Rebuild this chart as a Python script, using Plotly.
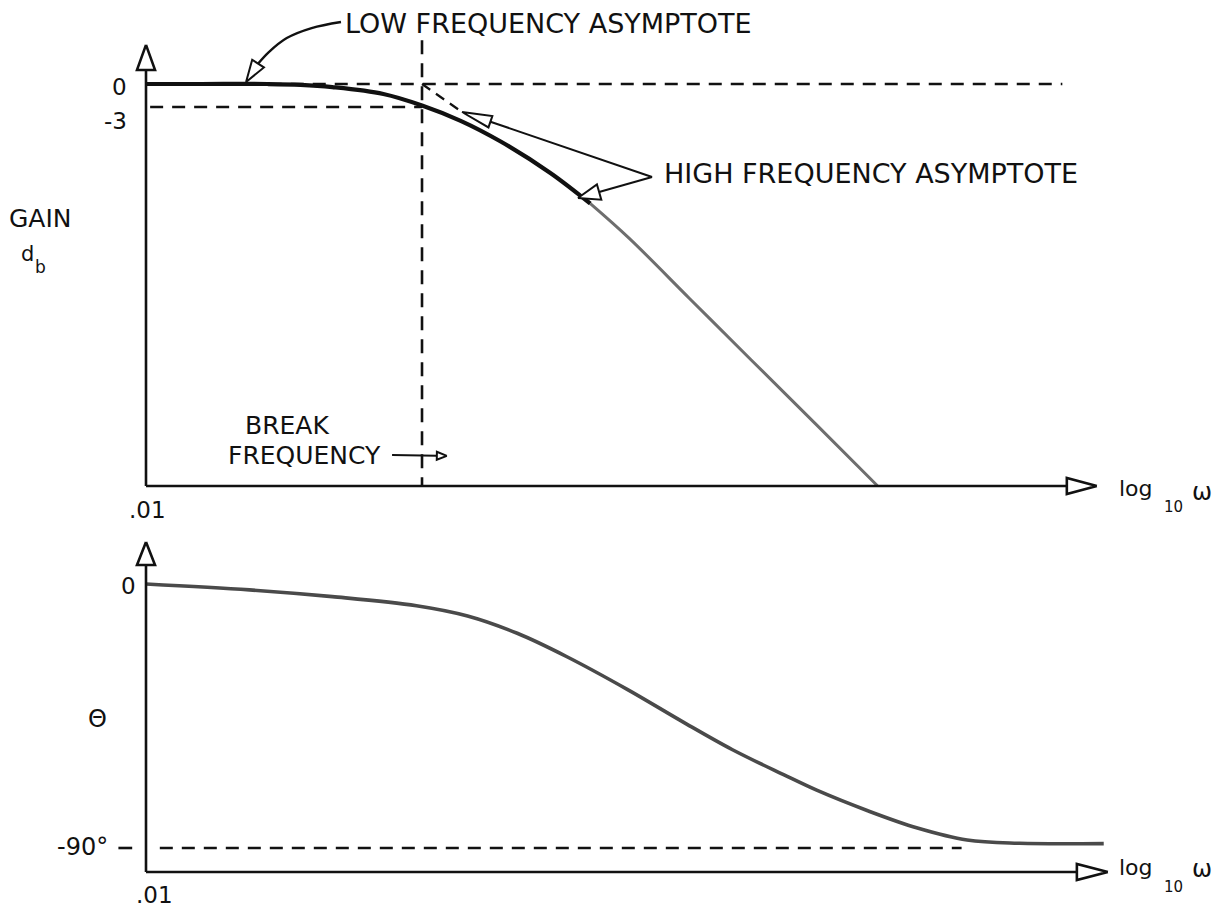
import math
import plotly.graph_objects as go

# ---------------- values ----------------
# magnitude curve: x = log10(omega) (break frequency at 0), y = gain in dB
gain_logw = [-2.0, -1.6, -1.12, -0.88, -0.65, -0.28, 0.0, 0.28, 0.57, 0.93, 1.22,
             1.5, 1.94, 2.38, 2.85, 3.3]
gain_db = [0.0, 0.0, 0.0, -0.1, -0.4, -1.3, -2.8, -4.8, -7.5, -11.6, -15.6,
           -20.1, -28.0, -35.9, -44.3, -52.4]

# phase curve: x = log10(omega), y = phase in degrees
phase_logw = [-2.0, -1.25, -0.65, -0.04, 0.33, 0.69, 1.05, 1.49, 1.89, 2.25, 2.62,
              2.86, 3.23, 3.59, 3.95, 4.33, 4.94]
phase_deg = [0.0, -2.0, -4.3, -7.4, -10.9, -16.8, -24.8, -36.0, -47.0, -56.5, -65.0,
             -70.3, -77.3, -83.2, -87.3, -88.4, -88.5]

# reference levels
LOW_ASYMPTOTE_DB = 0.0
HALF_POWER_DB = -3.0
BREAK_LOGW = 0.0
PHASE_LIMIT_DEG = -90.0
X_START = -2.0                      # log10(.01)

# tick labels
gain_tick_labels = ["0", "-3"]
phase_tick_labels = ["0", "-90°"]
x_tick_label = ".01"

# ---------------- frame ----------------
W, H = 1226, 914
X_RANGE = (-3.058, 5.826)
G_RANGE = (-108.26, 10.96)
P_RANGE = (-112.5, 199.1)

GAIN_AXIS_Y = -52.43
PHASE_AXIS_Y = -98.2
GAIN_X_END, PHASE_X_END = 4.89, 4.97
GAIN_Y_END, PHASE_Y_END = 5.1, 14.3

FONT = "DejaVu Sans"
INK = "#111111"


def to_px(x, y, yr):
    u = (x - X_RANGE[0]) / (X_RANGE[1] - X_RANGE[0]) * W
    v = (yr[1] - y) / (yr[1] - yr[0]) * H
    return u, v


def to_data(u, v, yr):
    x = X_RANGE[0] + u / W * (X_RANGE[1] - X_RANGE[0])
    y = yr[1] - v / H * (yr[1] - yr[0])
    return x, y


def head_path(tip, tail, yr, length, half):
    """Outline of an open triangular arrowhead pointing at `tip`."""
    tu, tv = to_px(*tip, yr)
    su, sv = to_px(*tail, yr)
    d = math.hypot(su - tu, sv - tv)
    ux, uy = (su - tu) / d, (sv - tv) / d
    bu, bv = tu + ux * length, tv + uy * length
    pts = [(tu, tv), (bu - uy * half, bv + ux * half),
           (bu + uy * half, bv - ux * half), (tu, tv)]
    xs, ys = zip(*[to_data(u, v, yr) for u, v in pts])
    return list(xs), list(ys)


def shaft_end(tip, tail, yr, length):
    tu, tv = to_px(*tip, yr)
    su, sv = to_px(*tail, yr)
    d = math.hypot(su - tu, sv - tv)
    return to_data(tu + (su - tu) / d * length, tv + (sv - tv) / d * length, yr)


fig = go.Figure()
YA = {"top": ("y", G_RANGE), "bot": ("y2", P_RANGE)}


def line(xs, ys, panel, color=INK, width=2.5, dash=None, shape="linear"):
    fig.add_trace(go.Scatter(
        x=xs, y=ys, yaxis=YA[panel][0], mode="lines", hoverinfo="skip",
        line=dict(color=color, width=width, dash=dash, shape=shape, smoothing=1.0),
        showlegend=False))


def arrow(tip, tail, panel, length, half, width=2.0, draw_shaft=True):
    yr = YA[panel][1]
    if draw_shaft:
        bx, by = shaft_end(tip, tail, yr, length)
        line([tail[0], bx], [tail[1], by], panel, width=width)
    hx, hy = head_path(tip, tail, yr, length, half)
    fig.add_trace(go.Scatter(
        x=hx, y=hy, yaxis=YA[panel][0], mode="lines", fill="toself",
        fillcolor="white", hoverinfo="skip", showlegend=False,
        line=dict(color=INK, width=width)))


DASH = "13px,9px"

# ---- magnitude panel ----
line([-1.27, 4.64], [LOW_ASYMPTOTE_DB] * 2, "top", dash=DASH, width=2.6)
line([-1.97, BREAK_LOGW], [HALF_POWER_DB] * 2, "top", dash=DASH, width=2.6)
line([BREAK_LOGW] * 2, [5.7, GAIN_AXIS_Y], "top", dash="14px,9px", width=2.6)
line([BREAK_LOGW, 0.29], [LOW_ASYMPTOTE_DB, -3.65], "top", dash="10px,7px", width=2.2)

split = gain_logw.index(1.22)
line(gain_logw[:split + 1], gain_db[:split + 1], "top", color="#111111", width=4.2, shape="spline")
line(gain_logw[split:], gain_db[split:], "top", color="#6e6e6e", width=3.0, shape="spline")

# axes with open arrowheads
arrow((X_START, GAIN_Y_END), (X_START, GAIN_AXIS_Y), "top", 25, 9, width=2.6)
arrow((GAIN_X_END, GAIN_AXIS_Y), (X_START, GAIN_AXIS_Y), "top", 30, 8, width=2.6)

# call-out arrows
line([-0.587, -0.80, -0.98, -1.11, -1.19], [8.09, 7.3, 6.0, 4.17, 2.61], "top",
     width=2.4, shape="spline")
arrow((-1.275, 0.26), (-1.19, 2.61), "top", 22, 7, width=2.0, draw_shaft=False)
arrow((0.29, -3.65), (1.667, -12.13), "top", 30, 6, width=2.0)
arrow((1.13, -14.87), (1.667, -12.13), "top", 22, 8, width=2.0)
arrow((0.18, -48.5), (-0.217, -48.4), "top", 10, 4, width=2.0)

# ---- phase panel ----
line([-1.9, 3.91], [PHASE_LIMIT_DEG] * 2, "bot", dash=DASH, width=2.6)
line([-2.2, -2.1], [PHASE_LIMIT_DEG] * 2, "bot", width=2.6)
line(phase_logw, phase_deg, "bot", color="#4a4a4a", width=3.6, shape="spline")
arrow((X_START, PHASE_Y_END), (X_START, PHASE_AXIS_Y), "bot", 23, 9, width=2.6)
arrow((PHASE_X_END, PHASE_AXIS_Y), (X_START, PHASE_AXIS_Y), "bot", 31, 8, width=2.6)


# ---------------- text ----------------
def label(text, x, y, panel, size=25, xanchor="center", yanchor="middle"):
    fig.add_annotation(text=text, x=x, y=y, xref="x", yref=YA[panel][0],
                       xanchor=xanchor, yanchor=yanchor, showarrow=False,
                       font=dict(family=FONT, size=size, color=INK))


def log_omega(x, y_log, y_sub, y_omega, panel):
    label("log", x, y_log, panel, size=22, xanchor="left")
    label("10", x + 0.326, y_sub, panel, size=15, xanchor="left")
    label("ω", x + 0.53, y_omega, panel, size=24, xanchor="left")


label("LOW FREQUENCY ASYMPTOTE", -0.575, 7.9, "top", size=27, xanchor="left")
label("HIGH FREQUENCY ASYMPTOTE", 1.74, -11.7, "top", size=27, xanchor="left")
label("BREAK", -0.978, -44.6, "top")
label("FREQUENCY", -0.848, -48.4, "top")
label("GAIN", -2.761, -17.6, "top")
label("d", -2.862, -22.2, "top", size=21)
label("b", -2.768, -23.9, "top", size=17)
label(gain_tick_labels[0], -2.12, -0.4, "top", size=23, xanchor="right")
label(gain_tick_labels[1], -2.12, -4.8, "top", size=23, xanchor="right")
label(x_tick_label, -1.986, -55.6, "top", size=23)
log_omega(5.036, -52.7, -55.2, -53.2, "top")

label(phase_tick_labels[0], -2.06, -0.7, "bot", size=23, xanchor="right")
label("Θ", -2.355, -46.0, "bot", size=24)
label(phase_tick_labels[1], -2.26, -89.7, "bot", size=24, xanchor="right")
label(x_tick_label, -1.942, -106.1, "bot", size=23)
log_omega(5.036, -96.5, -103.3, -97.2, "bot")

hidden = dict(visible=False, showgrid=False, zeroline=False, fixedrange=True)
fig.update_layout(
    width=W, height=H, autosize=False,
    margin=dict(l=0, r=0, t=0, b=0, pad=0),
    paper_bgcolor="white", plot_bgcolor="white",
    xaxis=dict(range=list(X_RANGE), domain=[0, 1], **hidden),
    yaxis=dict(range=list(G_RANGE), domain=[0, 1], **hidden),
    yaxis2=dict(range=list(P_RANGE), domain=[0, 1], overlaying="y", **hidden),
    showlegend=False,
)

fig.write_html("out.html")
